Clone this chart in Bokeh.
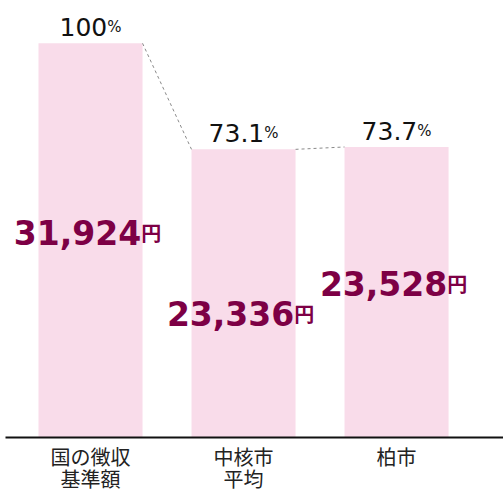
from bokeh.plotting import figure
from bokeh.models import FixedTicker, Range1d, ColumnDataSource
from bokeh.core.properties import value
from bokeh.embed import file_html
from bokeh.resources import INLINE

# ---- data ----
categories = ["国の徴収\n基準額", "中核市\n平均", "柏市"]
amounts = [31924, 23336, 23528]          # 円
percents = [100.0, 73.1, 73.7]           # % of national standard
pct_labels = ["100", "73.1", "73.7"]
amount_labels = ["31,924", "23,336", "23,528"]

# ---- style ----
label_y = [48.5, 28.0, 35.6]             # vertical anchor of amount labels (data units)
bar_w = 0.68
bar_color = "#f9dcea"
amt_color = "#7d0045"

xs = list(range(len(categories)))

p = figure(width=503, height=496, output_backend="svg", toolbar_location=None,
           x_range=Range1d(-0.5556, 2.699), y_range=Range1d(0, 110.86),
           min_border_left=5, min_border_right=0, min_border_top=0, min_border_bottom=57)
p.outline_line_color = None
p.xgrid.visible = False
p.ygrid.visible = False
p.yaxis.visible = False
p.background_fill_color = "white"
p.border_fill_color = "white"

src = ColumnDataSource(dict(x=xs, pct=percents, amt=amounts))
p.vbar(x="x", top="pct", width=bar_w, bottom=0, source=src,
       fill_color=bar_color, line_color=None)

# dashed connectors between bar tops
for i in range(len(xs) - 1):
    p.line([xs[i] + bar_w / 2, xs[i + 1] - bar_w / 2], [percents[i], percents[i + 1]],
           line_color="#8a8a8a", line_width=1, line_dash="3 3")

def w_num(s, fs, digit=0.636, dot=0.318, comma=0.318):
    w = 0
    for c in s:
        if c == ".":
            w += dot * fs
        elif c == ",":
            w += comma * fs
        else:
            w += digit * fs
    return w

# percent labels
pfs, psfs = 25, 15
for i, s in enumerate(pct_labels):
    wn = w_num(s, pfs)
    wp = 0.95 * psfs
    off = (wn - wp) / 2
    p.text(x=[xs[i]], y=[percents[i]], text=[s], x_offset=off, y_offset=-16,
           text_align="right", text_baseline="alphabetic",
           text_font=value("DejaVu Sans"), text_font_size=f"{pfs}px", text_color="#111111")
    p.text(x=[xs[i]], y=[percents[i]], text=["%"], x_offset=off, y_offset=-16,
           text_align="left", text_baseline="alphabetic",
           text_font=value("DejaVu Sans"), text_font_size=f"{psfs}px", text_color="#111111")

# amount labels
afs, yfs = 33, 20
for i, s in enumerate(amount_labels):
    wn = w_num(s, afs, digit=0.696, comma=0.38)
    off = (wn - yfs) / 2 - 3
    p.text(x=[xs[i]], y=[label_y[i]], text=[s], x_offset=off, y_offset=-14,
           text_align="right", text_baseline="alphabetic",
           text_font=value("DejaVu Sans"), text_font_style="bold",
           text_font_size=f"{afs}px", text_color=amt_color)
    p.text(x=[xs[i]], y=[label_y[i]], text=["円"], x_offset=off, y_offset=-14,
           text_align="left", text_baseline="alphabetic",
           text_font=value("Noto Sans CJK JP"), text_font_style="bold",
           text_font_size=f"{yfs}px", text_color=amt_color)

ax = p.xaxis[0]
ax.ticker = FixedTicker(ticks=xs)
ax.major_label_overrides = {i: c for i, c in zip(xs, categories)}
ax.major_tick_line_color = None
ax.minor_tick_line_color = None
ax.axis_line_color = "#111111"
ax.axis_line_width = 2
ax.major_label_text_font = "Noto Sans CJK JP"
ax.major_label_text_font_size = "20px"
ax.major_label_text_line_height = 0.79
ax.major_label_text_color = "#222222"
ax.major_label_standoff = -2

open("out.html", "w").write(file_html(p, INLINE))
